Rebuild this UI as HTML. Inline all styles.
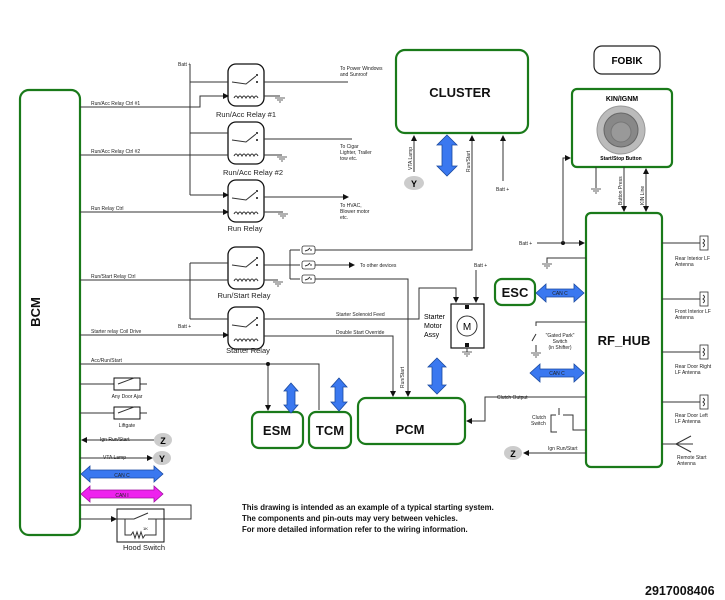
<!DOCTYPE html>
<html><head><meta charset="utf-8"><style>
html,body{margin:0;padding:0;background:#fff;width:725px;height:600px;overflow:hidden}
svg{display:block;font-family:"Liberation Sans",Arial,sans-serif}
.g{fill:#fff;stroke:#1a7a1a;stroke-width:2.2}
.w{fill:none;stroke:#333;stroke-width:1}
.s{font-size:5px;fill:#222}
.m{font-size:7.5px;fill:#222}
.b{font-size:13px;font-weight:bold;fill:#111}
.r{fill:#fff;stroke:#111;stroke-width:1.3}
</style></head><body>
<svg width="725" height="600" viewBox="0 0 725 600" xmlns="http://www.w3.org/2000/svg">
<defs>
<marker id="a" markerWidth="6" markerHeight="6" refX="5" refY="3" orient="auto"><path d="M0,0 L6,3 L0,6z" fill="#111"/></marker>
<g id="relay">
<rect x="0" y="0" width="36" height="42" rx="8" class="r"/>
<path d="M4,18 L18,20 L28,12" class="w"/>
<path d="M6,34 q2,-4 4,0 q2,-4 4,0 q2,-4 4,0 q2,-4 4,0 q2,-4 4,0 q2,-4 4,0" class="w"/>
<circle cx="29" cy="11" r="1" fill="#111"/><circle cx="29" cy="18" r="1" fill="#111"/>
</g>
<g id="gnd"><path d="M-5,0 h10 M-3,2 h6 M-1,4 h2" stroke="#333" stroke-width="0.8"/></g>
<g id="fuse"><rect x="0" y="-4" width="13" height="8" rx="2" fill="#fff" stroke="#333" stroke-width="0.8"/><path d="M3,1 l3,-1 l2,-2 M8,0 l2,0" class="w" stroke-width="0.6"/></g>
<g id="ant"><rect x="0" y="-7" width="8" height="14" fill="#fff" stroke="#333" stroke-width="0.8"/><path d="M3,-4 q3,2 0,4 q3,2 0,4" class="w" stroke-width="0.6"/></g>
</defs>

<!-- main boxes -->
<rect x="20" y="90" width="60" height="445" rx="9" class="g"/>
<text x="40" y="312" class="b" transform="rotate(-90 40 312)" text-anchor="middle">BCM</text>
<rect x="396" y="50" width="132" height="83" rx="9" class="g"/>
<text x="460" y="97" class="b" text-anchor="middle">CLUSTER</text>
<rect x="594" y="46" width="66" height="28" rx="8" fill="#fff" stroke="#222" stroke-width="1.2"/>
<text x="627" y="64" font-size="10" font-weight="bold" text-anchor="middle">FOBIK</text>
<rect x="572" y="89" width="100" height="78" rx="5" class="g"/>
<text x="622" y="101" font-size="7" font-weight="bold" text-anchor="middle">KIN/IGNM</text>
<circle cx="621" cy="130" r="24" fill="#bbb" stroke="#999"/>
<circle cx="621" cy="130" r="17" fill="#888" stroke="#666"/>
<circle cx="621" cy="132" r="10" fill="#999" stroke="#777"/>
<text x="621" y="160" font-size="5" font-weight="bold" text-anchor="middle">Start/Stop Button</text>
<rect x="586" y="213" width="76" height="254" rx="5" class="g"/>
<text x="624" y="345" class="b" text-anchor="middle">RF_HUB</text>
<rect x="495" y="279" width="40" height="26" rx="7" class="g"/>
<text x="515" y="297" class="b" text-anchor="middle">ESC</text>
<rect x="252" y="412" width="51" height="36" rx="7" class="g"/>
<text x="277" y="435" class="b" text-anchor="middle">ESM</text>
<rect x="309" y="412" width="42" height="36" rx="7" class="g"/>
<text x="330" y="435" class="b" text-anchor="middle">TCM</text>
<rect x="358" y="398" width="107" height="46" rx="8" class="g"/>
<text x="410" y="434" class="b" text-anchor="middle">PCM</text>

<!-- relays -->
<use href="#relay" x="228" y="64"/><use href="#relay" x="228" y="122"/><use href="#relay" x="228" y="180"/>
<use href="#relay" x="228" y="247"/><use href="#relay" x="228" y="307"/>
<text x="246" y="117" class="m" text-anchor="middle">Run/Acc Relay #1</text>
<text x="253" y="175" class="m" text-anchor="middle">Run/Acc Relay #2</text>
<text x="245" y="231" class="m" text-anchor="middle">Run Relay</text>
<text x="244" y="298" class="m" text-anchor="middle">Run/Start Relay</text>
<text x="248" y="353" class="m" text-anchor="middle">Starter Relay</text>

<!-- batt bus -->
<text x="178" y="66" class="s">Batt +</text>
<path d="M190,65 V195" class="w"/>
<path d="M190,82 H228 M190,133 H228 M190,195 H228" class="w" marker-end="url(#a)"/>
<path d="M80,107 H200 V96 H228" class="w" marker-end="url(#a)"/>
<path d="M80,155 H228 M80,212 H228" class="w" marker-end="url(#a)"/>
<text x="91" y="105" class="s">Run/Acc Relay Ctrl #1</text>
<text x="91" y="153" class="s">Run/Acc Relay Ctrl #2</text>
<text x="91" y="210" class="s">Run Relay Ctrl</text>
<path d="M264,96 H280 M264,155 H282 M264,212 H283" class="w"/>
<use href="#gnd" x="280" y="98"/><use href="#gnd" x="282" y="157"/><use href="#gnd" x="283" y="214"/>
<path d="M264,82 H348 M264,139 H352 M264,197 H348" class="w" marker-end="url(#a)"/>
<text x="340" y="70" class="s">To Power Windows</text><text x="340" y="76" class="s">and Sunroof</text>
<text x="340" y="148" class="s">To Cigar</text><text x="340" y="154" class="s">Lighter, Trailer</text><text x="340" y="160" class="s">tow etc.</text>
<text x="340" y="207" class="s">To HVAC,</text><text x="340" y="213" class="s">Blower motor</text><text x="340" y="219" class="s">etc.</text>

<!-- run/start & starter -->
<path d="M80,280 H228 M80,335 H228" class="w" marker-end="url(#a)"/>
<text x="91" y="278" class="s">Run/Start Relay Ctrl</text>
<text x="91" y="333" class="s">Starter relay Coil Drive</text>
<path d="M190,263 V319 M190,263 H228 M190,319 H228" class="w"/>
<text x="178" y="328" class="s">Batt +</text>
<path d="M264,280 H278" class="w"/><use href="#gnd" x="278" y="282"/>
<path d="M264,265 H290 M290,250 V279 M290,250 H300 M290,265 H300 M290,279 H300" class="w"/>
<use href="#fuse" x="302" y="250"/><use href="#fuse" x="302" y="265"/><use href="#fuse" x="302" y="279"/>
<path d="M315,250 H472 V136" class="w" marker-end="url(#a)"/>
<path d="M315,265 H354" class="w" marker-end="url(#a)"/>
<text x="360" y="267" class="s">To other devices</text>
<path d="M315,279 H408 V396" class="w" marker-end="url(#a)"/>
<path d="M264,319 H419 V288 H456 V302" class="w" marker-end="url(#a)"/>
<path d="M476,270 V302" class="w" marker-end="url(#a)"/>
<text x="474" y="267" class="s">Batt +</text>
<text x="336" y="316" class="s">Starter Solenoid Feed</text>
<path d="M264,336 H393 V396" class="w" marker-end="url(#a)"/>
<text x="336" y="334" class="s">Double Start Override</text>
<rect x="451" y="304" width="33" height="44" fill="#fff" stroke="#111" stroke-width="1.2"/>
<circle cx="467" cy="326" r="10" fill="#fff" stroke="#333"/>
<text x="467" y="330" font-size="10" text-anchor="middle">M</text>
<rect x="465" y="305" width="4" height="4" fill="#111"/><rect x="465" y="343" width="4" height="4" fill="#111"/>
<use href="#gnd" x="467" y="352"/><path d="M467,348 V352" class="w"/>
<text x="424" y="319" font-size="7">Starter</text><text x="424" y="328" font-size="7">Motor</text><text x="424" y="337" font-size="7">Assy</text>
<text x="404" y="388" class="s" transform="rotate(-90 404 388)">Run/Start</text>

<!-- acc/run/start -->
<path d="M80,364 H319 V410 M268,364 V410" class="w"/>
<path d="M319,400 V410 M268,400 V410" class="w" marker-end="url(#a)"/>
<circle cx="268" cy="364" r="2" fill="#111"/>
<text x="91" y="362" class="s">Acc/Run/Start</text>

<!-- blue vertical arrows -->
<path d="M447,135 l10,10 h-5 v21 h5 l-10,10 l-10,-10 h5 v-21 h-5z" fill="#3a78f0" stroke="#1a4aa0" stroke-width="0.8"/>
<path d="M291,383 l7,8 h-3 v14 h3 l-7,8 l-7,-8 h3 v-14 h-3z" fill="#3a78f0" stroke="#1a4aa0" stroke-width="0.8"/>
<path d="M339,378 l8,9 h-4 v15 h4 l-8,9 l-8,-9 h4 v-15 h-4z" fill="#3a78f0" stroke="#1a4aa0" stroke-width="0.8"/>
<path d="M437,358 l9,9 h-4 v18 h4 l-9,9 l-9,-9 h4 v-18 h-4z" fill="#3a78f0" stroke="#1a4aa0" stroke-width="0.8"/>

<!-- cluster inputs -->
<path d="M414,172 V136" class="w" marker-end="url(#a)"/>
<ellipse cx="414" cy="183" rx="10" ry="7" fill="#ccc"/><text x="414" y="187" font-size="9" font-weight="bold" text-anchor="middle">Y</text>
<text x="412" y="170" class="s" transform="rotate(-90 412 170)">VTA Lamp</text>
<text x="470" y="172" class="s" transform="rotate(-90 470 172)">Run/Start</text>
<path d="M503,181 V136" class="w" marker-end="url(#a)"/>
<text x="496" y="191" class="s">Batt +</text>

<!-- left lower BCM -->
<path d="M80,384 H114 M140,384 H147 M80,413 H114 M140,413 H147" class="w"/>
<rect x="114" y="378" width="26" height="12" fill="#fff" stroke="#111"/>
<rect x="114" y="407" width="26" height="12" fill="#fff" stroke="#111"/>
<path d="M118,384 L134,378 M118,413 L134,407" class="w"/>
<text x="127" y="398" class="s" text-anchor="middle">Any Door Ajar</text>
<text x="127" y="427" class="s" text-anchor="middle">Liftgate</text>
<path d="M154,440 H82" class="w" marker-end="url(#a)"/>
<text x="100" y="441" class="s">Ign Run/Start</text>
<ellipse cx="163" cy="440" rx="9" ry="7" fill="#ccc"/><text x="163" y="444" font-size="9" font-weight="bold" text-anchor="middle">Z</text>
<path d="M80,458 H152" class="w" marker-end="url(#a)"/>
<text x="103" y="459" class="s">VTA Lamp</text>
<ellipse cx="162" cy="458" rx="9" ry="7" fill="#ccc"/><text x="162" y="462" font-size="9" font-weight="bold" text-anchor="middle">Y</text>
<path d="M81,474 l9,-8 v4 h64 v-4 l9,8 l-9,8 v-4 h-64 v4z" fill="#3a78f0" stroke="#1a4aa0" stroke-width="0.8"/>
<text x="122" y="477" class="s" text-anchor="middle">CAN C</text>
<path d="M81,494 l9,-8 v4 h64 v-4 l9,8 l-9,8 v-4 h-64 v4z" fill="#ee22ee" stroke="#a010a0" stroke-width="0.8"/>
<text x="122" y="497" class="s" text-anchor="middle">CAN I</text>
<path d="M80,505 H191 V519 H164" class="w"/>
<path d="M80,519 H116" class="w" marker-end="url(#a)"/>
<rect x="117" y="509" width="47" height="33" fill="#fff" stroke="#111"/>
<path d="M117,519 H134 L148,513 M148,519 H164 M125,519 V535 H131 l2,-3 2,6 2,-6 2,6 2,-6 2,6 2,-3 H156 V519" class="w"/>
<text x="143" y="530" font-size="4">1K</text>
<text x="144" y="550" class="m" text-anchor="middle">Hood Switch</text>

<!-- right side -->
<path d="M537,243 H584" class="w" marker-end="url(#a)"/>
<text x="519" y="245" class="s">Batt +</text>
<circle cx="563" cy="243" r="2" fill="#111"/>
<path d="M563,243 V158 H570" class="w" marker-end="url(#a)"/>
<path d="M596,167 V188" class="w"/><use href="#gnd" x="596" y="189"/>
<path d="M624,167 V211" class="w" marker-end="url(#a)"/>
<text x="622" y="205" class="s" transform="rotate(-90 622 205)">Button Press</text>
<path d="M646,196 V169" class="w" marker-end="url(#a)"/><path d="M646,180 V211" class="w" marker-end="url(#a)"/>
<text x="644" y="205" class="s" transform="rotate(-90 644 205)">KIN Line</text>
<path d="M586,258 H547 V263" class="w"/><use href="#gnd" x="547" y="264"/>
<path d="M536,293 l10,-9 v5 h28 v-5 l10,9 l-10,9 v-5 h-28 v5z" fill="#3a78f0" stroke="#1a4aa0" stroke-width="0.8"/>
<text x="560" y="295" class="s" text-anchor="middle">CAN C</text>
<path d="M586,322 H536 V326 M536,334 L532,341 M536,345 V352" class="w"/><use href="#gnd" x="536" y="353"/>
<text x="560" y="337" class="s" text-anchor="middle">"Gated Park"</text><text x="560" y="343" class="s" text-anchor="middle">Switch</text><text x="560" y="349" class="s" text-anchor="middle">(in Shifter)</text>
<path d="M530,373 l10,-9 v5 h34 v-5 l10,9 l-10,9 v-5 h-34 v5z" fill="#3a78f0" stroke="#1a4aa0" stroke-width="0.8"/>
<text x="557" y="375" class="s" text-anchor="middle">CAN C</text>
<path d="M586,397 H485 V421 H467" class="w" marker-end="url(#a)"/>
<text x="497" y="399" class="s">Clutch Output</text>
<path d="M586,430 H573 V415 H563 M559,415 V408 M556,415 H551 V432 H557" class="w"/>
<text x="532" y="419" class="s">Clutch</text><text x="531" y="425" class="s">Switch</text>
<path d="M586,453 H524" class="w" marker-end="url(#a)"/>
<text x="548" y="450" class="s">Ign Run/Start</text>
<ellipse cx="513" cy="453" rx="9" ry="7" fill="#ccc"/><text x="513" y="457" font-size="9" font-weight="bold" text-anchor="middle">Z</text>
<path d="M662,243 H700 M662,299 H700 M662,352 H700 M662,402 H700 M662,444 H676 L691,436 M676,444 L691,452 M676,444 H693" class="w"/>
<use href="#ant" x="700" y="243"/><use href="#ant" x="700" y="299"/><use href="#ant" x="700" y="352"/><use href="#ant" x="700" y="402"/>
<text x="675" y="260" class="s">Rear Interior LF</text><text x="675" y="266" class="s">Antenna</text>
<text x="675" y="313" class="s">Front Interior LF</text><text x="675" y="319" class="s">Antenna</text>
<text x="675" y="368" class="s">Rear Door Right</text><text x="675" y="374" class="s">LF Antenna</text>
<text x="675" y="417" class="s">Rear Door Left</text><text x="675" y="423" class="s">LF Antenna</text>
<text x="677" y="459" class="s">Remote Start</text><text x="677" y="465" class="s">Antenna</text>

<!-- caption -->
<text x="242" y="510" font-size="7.8" font-weight="bold" fill="#111">This drawing is intended as an example of a typical starting system.</text>
<text x="242" y="521" font-size="7.8" font-weight="bold" fill="#111">The components and pin-outs may very between vehicles.</text>
<text x="242" y="532" font-size="7.8" font-weight="bold" fill="#111">For more detailed information refer to the wiring information.</text>
<text x="645" y="595" font-size="12.5" font-weight="bold" fill="#111">2917008406</text>
</svg>
</body></html>
